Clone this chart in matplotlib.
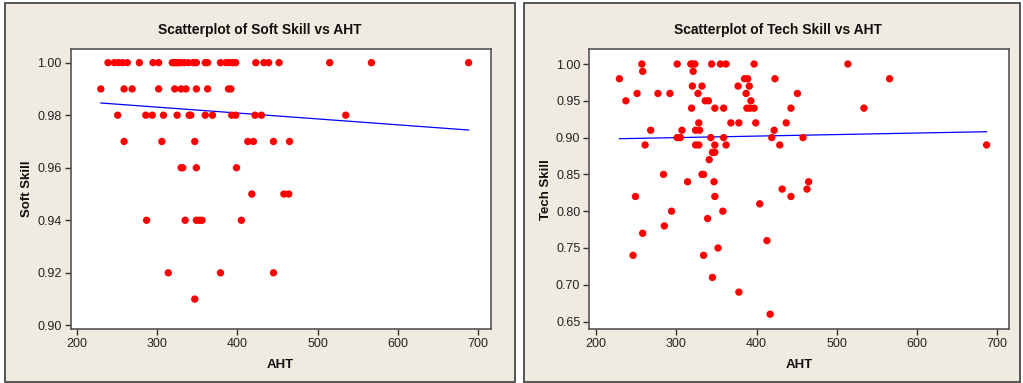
import matplotlib
matplotlib.use("Agg")
import matplotlib.pyplot as plt
from matplotlib.patches import Rectangle
import numpy as np

plt.rcParams['font.family'] = ['Liberation Sans', 'DejaVu Sans']

# ---- Soft skill data (AHT, score) ----
soft_aht = [239, 247, 252, 257, 263, 278, 295, 302, 319, 321, 324, 326, 329, 334, 339,
            345, 349, 360, 363, 379, 386, 390, 394, 398, 423, 433, 439, 452, 515, 567, 688,
            230, 259, 269, 302, 322, 330, 336, 349, 363, 389, 392,
            251, 286, 294, 308, 325, 340, 342, 360, 369, 393, 398, 422, 430, 535,
            259, 306, 347, 413, 420, 445, 465,
            330, 332, 349, 399,
            418, 458, 464,
            287, 335, 349, 353, 356, 405,
            314, 379, 445,
            347]
soft_val = [1.00] * 31 + [0.99] * 11 + [0.98] * 14 + [0.97] * 7 + [0.96] * 4 + \
           [0.95] * 3 + [0.94] * 6 + [0.92] * 3 + [0.91] * 1
soft_fit_x = [230, 688]
soft_fit_y = [0.98465, 0.97436]

# ---- Tech skill data (AHT, score) ----
tech_groups = {
    1.00: [257, 301, 318, 320, 323, 344, 355, 362, 397, 514],
    0.99: [258, 321],
    0.98: [229, 385, 389, 423, 566],
    0.97: [320, 332, 377, 391],
    0.96: [251, 277, 292, 327, 387, 451],
    0.95: [237, 336, 340, 393],
    0.94: [319, 348, 359, 388, 392, 397, 443, 534],
    0.92: [328, 368, 378, 399, 437],
    0.91: [268, 307, 324, 329, 422],
    0.90: [301, 305, 343, 359, 419, 458],
    0.89: [261, 324, 328, 348, 362, 429, 687],
    0.88: [345, 348],
    0.87: [341],
    0.85: [284, 332, 334],
    0.84: [314, 347, 465],
    0.83: [432, 463],
    0.82: [249, 348, 443],
    0.81: [404],
    0.80: [294, 358],
    0.79: [339],
    0.78: [285],
    0.77: [258],
    0.76: [413],
    0.75: [352],
    0.74: [246, 334],
    0.71: [345],
    0.69: [378],
    0.66: [417],
}
tech_aht = [a for v, xs in tech_groups.items() for a in xs]
tech_val = [v for v, xs in tech_groups.items() for a in xs]
tech_fit_x = [229, 687]
tech_fit_y = [0.8985, 0.9080]

x_ticks = [200, 300, 400, 500, 600, 700]
soft_yticks = [0.90, 0.92, 0.94, 0.96, 0.98, 1.00]
tech_yticks = [0.65, 0.70, 0.75, 0.80, 0.85, 0.90, 0.95, 1.00]

W, H = 1023, 383
fig = plt.figure(figsize=(W / 100, H / 100), dpi=100, facecolor='white')

panel_bg = '#EFEBE1'
border = '#4a4a4a'


def fx(px):
    return px / W


def fy(py):
    return 1 - py / H


for x0, x1 in [(5, 514.5), (524, 1020)]:
    fig.add_artist(Rectangle((fx(x0), fy(382)), fx(x1) - fx(x0), fy(3) - fy(382),
                             transform=fig.transFigure, facecolor=panel_bg,
                             edgecolor=border, linewidth=1.3, zorder=0))

specs = [
    dict(rect=(70.7, 490.7), aht=soft_aht, val=soft_val, fx_=soft_fit_x, fy_=soft_fit_y,
         yticks=soft_yticks, ylim=(0.8985, 1.0052), ylabel='Soft Skill',
         title='Scatterplot of Soft Skill vs AHT', xlim=(192.5, 715.5), cx=260),
    dict(rect=(589.3, 1009), aht=tech_aht, val=tech_val, fx_=tech_fit_x, fy_=tech_fit_y,
         yticks=tech_yticks, ylim=(0.6395, 1.0204), ylabel='Tech Skill',
         title='Scatterplot of Tech Skill vs AHT', xlim=(191.4, 715.0), cx=778),
]

for s in specs:
    l, r = s['rect']
    ax = fig.add_axes([fx(l), fy(329.3), fx(r) - fx(l), fy(49) - fy(329.3)])
    ax.set_facecolor('white')
    ax.scatter(s['aht'], s['val'], s=28, color='#FF0000', edgecolors='none', zorder=3)
    ax.plot(s['fx_'], s['fy_'], color='#0000FF', linewidth=0.9, zorder=2)
    ax.set_xlim(*s['xlim'])
    ax.set_ylim(*s['ylim'])
    ax.set_xticks(x_ticks)
    ax.set_yticks(s['yticks'])
    ax.set_yticklabels([f'{v:.2f}' for v in s['yticks']])
    ax.tick_params(direction='out', length=4, width=1, colors='#333333',
                   labelsize=9, labelcolor='#222222', pad=2.5)
    for sp in ax.spines.values():
        sp.set_color('#555555')
        sp.set_linewidth(1.2)
    ax.set_xlabel('AHT', fontsize=9.5, fontweight='bold', labelpad=6, color='#111111')
    ax.set_ylabel(s['ylabel'], fontsize=9.5, fontweight='bold', labelpad=3, color='#111111')
    fig.text(fx(s['cx']), fy(30), s['title'], ha='center', va='center',
             fontsize=10, fontweight='bold', color='#111111')

fig.savefig('out.png', dpi=100, facecolor='white')
